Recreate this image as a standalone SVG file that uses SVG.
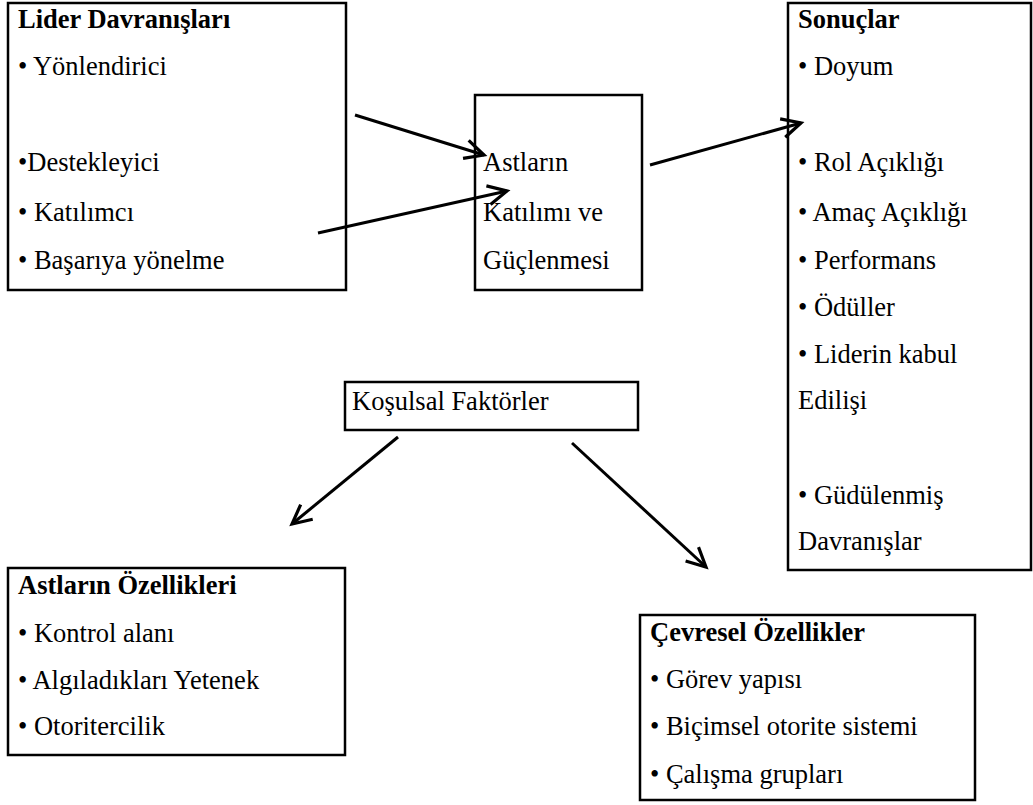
<svg xmlns="http://www.w3.org/2000/svg" width="1033" height="805" viewBox="0 0 1033 805">
<style>
.box{fill:#fff;stroke:#000;stroke-width:2.5}
.t{font-family:"Liberation Serif","Times New Roman",serif;font-size:26.5px;fill:#000}
.b{font-weight:bold}
.c{stroke:#000;stroke-width:3;fill:none;marker-end:url(#ah)}
</style>
<defs>
<marker id="ah" markerUnits="userSpaceOnUse" markerWidth="50" markerHeight="50" refX="0" refY="0" viewBox="-25 -25 50 50" orient="auto" overflow="visible">
<path d="M-19,-9.5 L0,0 L-19,9.5" fill="none" stroke="#000" stroke-width="3.2" stroke-linejoin="miter"/>
</marker>
</defs>
<rect width="1033" height="805" fill="#fff"/>
<g id="lider">
<rect class="box" x="8" y="3" width="338" height="287"/>
<text class="t b" x="18" y="28">Lider Davranışları</text>
<text class="t" x="18" y="75">• Yönlendirici</text>
<text class="t" x="18" y="171">•Destekleyici</text>
<text class="t" x="18" y="221">• Katılımcı</text>
<text class="t" x="18" y="269">• Başarıya yönelme</text>
</g>
<g id="astlarin-katilimi">
<rect class="box" x="475" y="95" width="167" height="195"/>
<text class="t" x="483" y="171">Astların</text>
<text class="t" x="483" y="221">Katılımı ve</text>
<text class="t" x="483" y="269">Güçlenmesi</text>
</g>
<g id="sonuclar">
<rect class="box" x="788" y="3" width="243" height="567"/>
<text class="t b" x="798" y="28">Sonuçlar</text>
<text class="t" x="798" y="75">• Doyum</text>
<text class="t" x="798" y="171">• Rol Açıklığı</text>
<text class="t" x="798" y="221">• Amaç Açıklığı</text>
<text class="t" x="798" y="269">• Performans</text>
<text class="t" x="798" y="316">• Ödüller</text>
<text class="t" x="798" y="363">• Liderin kabul</text>
<text class="t" x="798" y="409">Edilişi</text>
<text class="t" x="798" y="504">• Güdülenmiş</text>
<text class="t" x="798" y="550">Davranışlar</text>
</g>
<g id="kosulsal">
<rect class="box" x="345" y="382" width="293" height="48"/>
<text class="t" x="352" y="410">Koşulsal Faktörler</text>
</g>
<g id="astlarin-ozellikleri">
<rect class="box" x="8" y="568" width="337" height="187"/>
<text class="t b" x="18" y="594">Astların Özellikleri</text>
<text class="t" x="18" y="642">• Kontrol alanı</text>
<text class="t" x="18" y="689">• Algıladıkları Yetenek</text>
<text class="t" x="18" y="735">• Otoritercilik</text>
</g>
<g id="cevresel">
<rect class="box" x="640" y="615" width="335" height="185"/>
<text class="t b" x="650" y="641">Çevresel Özellikler</text>
<text class="t" x="650" y="688">• Görev yapısı</text>
<text class="t" x="650" y="735">• Biçimsel otorite sistemi</text>
<text class="t" x="650" y="783">• Çalışma grupları</text>
</g>
<g id="connectors">
<path class="c" d="M355,115 L484,155"/>
<path class="c" d="M318,233 L507,191"/>
<path class="c" d="M650,165 L801,123"/>
<path class="c" d="M398,437 L292,524"/>
<path class="c" d="M572,443 L706,567"/>
</g>
</svg>
